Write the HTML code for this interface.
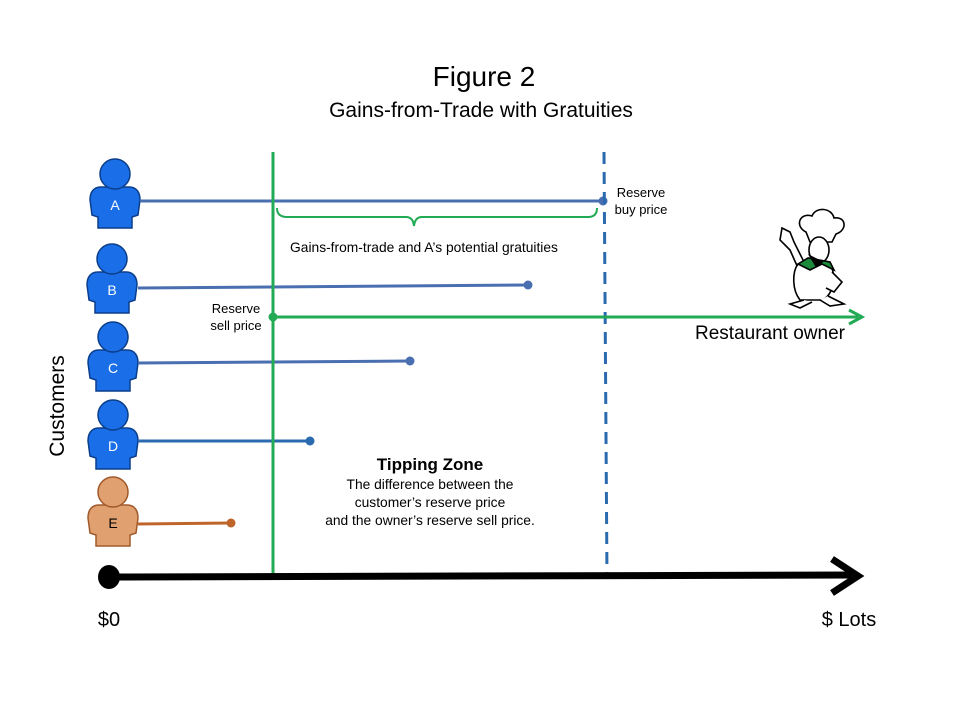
<!DOCTYPE html>
<html><head><meta charset="utf-8"><style>
html,body{margin:0;padding:0;background:#fff;width:960px;height:720px;overflow:hidden}
svg{display:block;font-family:"Liberation Sans",sans-serif}
</style></head><body>
<svg width="960" height="720" viewBox="0 0 960 720" xmlns="http://www.w3.org/2000/svg">
<defs>
<g id="person">
<path d="M-14,-18 C-22,-18 -25,-12 -25,-5 L-23,10 L-17,12 L-17,23 L17,23 L17,12 L23,10 L25,-5 C25,-12 22,-18 14,-18 Z"/>
<circle cx="0" cy="-31" r="15"/>
</g>
</defs>
<text x="484" y="86" font-size="28" text-anchor="middle" fill="#000">Figure 2</text>
<text x="481" y="117" font-size="21" text-anchor="middle" fill="#000">Gains-from-Trade with Gratuities</text>

<!-- customers -->
<g fill="#1a6fe8" stroke="#0b3e8a" stroke-width="1.5">
<use href="#person" x="115" y="205"/>
<use href="#person" x="112" y="290"/>
<use href="#person" x="113" y="368"/>
<use href="#person" x="113" y="446"/>
</g>
<g fill="#e0a070" stroke="#a05a2a" stroke-width="1.5"><use href="#person" x="113" y="523"/></g>
<g font-size="14" text-anchor="middle" fill="#fff">
<text x="115" y="210">A</text><text x="112" y="295">B</text><text x="113" y="373">C</text><text x="113" y="451">D</text>
</g>
<text x="113" y="528" font-size="14" text-anchor="middle" fill="#000">E</text>

<!-- lines -->
<g stroke-width="3">
<line x1="140" y1="201" x2="603" y2="201" stroke="#4a6fb0"/>
<line x1="138" y1="288" x2="528" y2="285" stroke="#4a6fb0"/>
<line x1="138" y1="363" x2="410" y2="361" stroke="#4a6fb0"/>
<line x1="138" y1="441" x2="310" y2="441" stroke="#2a6aae"/>
<line x1="138" y1="524" x2="231" y2="523" stroke="#c0652a"/>
</g>
<circle cx="603" cy="201" r="4.5" fill="#4a6fb0"/>
<circle cx="528" cy="285" r="4.5" fill="#4a6fb0"/>
<circle cx="410" cy="361" r="4.5" fill="#4a6fb0"/>
<circle cx="310" cy="441" r="4.5" fill="#2a6aae"/>
<circle cx="231" cy="523" r="4.5" fill="#c0652a"/>

<!-- dashed -->
<line x1="604" y1="152" x2="607" y2="578" stroke="#2a6aae" stroke-width="3" stroke-dasharray="12,8"/>

<!-- green -->
<line x1="273" y1="152" x2="273" y2="578" stroke="#22aa55" stroke-width="3"/>
<line x1="273" y1="317" x2="858" y2="317" stroke="#22aa55" stroke-width="3"/>
<path d="M849,310 L862,317 L849,324" fill="none" stroke="#22aa55" stroke-width="3"/>
<circle cx="273" cy="317" r="4.5" fill="#22aa55"/>
<path d="M277,208 Q277,217 287,217 L406,217 Q413,217 414,226 Q415,217 422,217 L588,217 Q597,217 597,208" fill="none" stroke="#22aa55" stroke-width="2"/>

<!-- axis -->
<line x1="110" y1="577" x2="855" y2="575" stroke="#000" stroke-width="7"/>
<path d="M832,559 L858,576 L832,593" fill="none" stroke="#000" stroke-width="7"/>
<ellipse cx="109" cy="577" rx="11" ry="12" fill="#000"/>

<!-- chef -->
<g stroke="#000" stroke-width="1.6" fill="#fff">
<path d="M806,232 C794,226 800,212 812,216 C816,206 832,208 834,218 C846,216 848,230 836,234 L832,242 L810,242 Z"/>
<ellipse cx="819" cy="250" rx="10" ry="13"/>
<path d="M798,268 L790,250 L780,240 L782,228 L790,232 L794,242 L804,262 Z"/>
<path d="M798,264 C808,262 826,262 832,268 C836,280 832,296 822,300 L800,300 C792,290 792,272 798,264 Z"/>
<path d="M798,264 L810,270 L822,264 L834,270 L830,262 L808,258 Z" fill="#1a8a3a"/>
<path d="M810,256 L822,262 L816,266 Z" fill="#000"/>
<path d="M832,272 L842,282 L834,292 L826,288"/>
<path d="M804,300 L790,304 L800,308 L812,302 M820,300 L830,306 L844,304 L828,296"/>
</g>

<g font-size="13" fill="#000">
<text x="641" y="197" text-anchor="middle">Reserve</text>
<text x="641" y="214" text-anchor="middle">buy price</text>
<text x="236" y="313" text-anchor="middle">Reserve</text>
<text x="236" y="330" text-anchor="middle">sell price</text>
</g>
<g font-size="13.8" fill="#000">
<text x="424" y="252" text-anchor="middle">Gains-from-trade and A’s potential gratuities</text>
<text x="430" y="489" text-anchor="middle">The difference between the</text>
<text x="430" y="507" text-anchor="middle">customer’s reserve price</text>
<text x="430" y="525" text-anchor="middle">and the owner’s reserve sell price.</text>
</g>
<text x="430" y="470" font-size="17" font-weight="bold" text-anchor="middle">Tipping Zone</text>
<text x="770" y="339" font-size="19" text-anchor="middle">Restaurant owner</text>
<text x="64" y="406" font-size="21" text-anchor="middle" transform="rotate(-90 64 406)">Customers</text>
<text x="109" y="626" font-size="20" text-anchor="middle">$0</text>
<text x="849" y="626" font-size="20" text-anchor="middle">$ Lots</text>
</svg>
</body></html>
